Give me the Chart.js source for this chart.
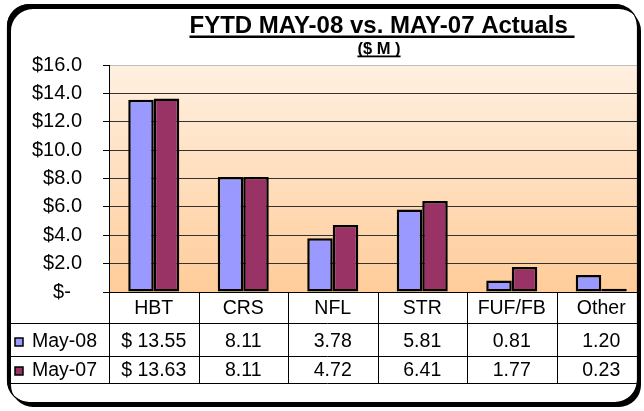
<!DOCTYPE html>
<html><head><meta charset="utf-8">
<script src="https://cdn.jsdelivr.net/npm/chart.js@4.4.1/dist/chart.umd.min.js"></script>
<style>
html,body{margin:0;padding:0;background:#fff;overflow:hidden;}
#wrap{width:644px;height:411px;overflow:hidden;position:relative;}
canvas{display:block;}
</style></head><body>
<div id="wrap"><canvas id="c" width="650" height="411"></canvas></div>
<script>
const categories = ['HBT', 'CRS', 'NFL', 'STR', 'FUF/FB', 'Other'];
const seriesNames = ['May-08', 'May-07'];
const may08 = [13.55, 8.11, 3.78, 5.81, 0.81, 1.20];
const may07 = [13.63, 8.11, 4.72, 6.41, 1.77, 0.23];
const yMin = 0, yMax = 16, yStep = 2;
const titleText = 'FYTD MAY-08 vs. MAY-07 Actuals ';
const subtitleText = '($ M )';
const colors = ['#9999FF', '#993366'];
const FONT = '"Liberation Sans", Arial, sans-serif';

function fmt(v, i) { return (i === 0 ? '$ ' : '') + v.toFixed(2); }

function rrPath(ctx, x0, y0, x1, y1, r) {
  ctx.moveTo(x0 + r, y0);
  ctx.lineTo(x1 - r, y0);
  ctx.arcTo(x1, y0, x1, y0 + r, r);
  ctx.lineTo(x1, y1 - r);
  ctx.arcTo(x1, y1, x1 - r, y1, r);
  ctx.lineTo(x0 + r, y1);
  ctx.arcTo(x0, y1, x0, y1 - r, r);
  ctx.lineTo(x0, y0 + r);
  ctx.arcTo(x0, y0, x0 + r, y0, r);
  ctx.closePath();
}

const bgPlugin = {
  id: 'bg',
  beforeDraw(chart) {
    const { ctx, chartArea: a } = chart;
    const g = ctx.createLinearGradient(0, a.top, 0, a.bottom);
    g.addColorStop(0, 'rgb(255,240,225)');
    g.addColorStop(1, 'rgb(255,204,153)');
    ctx.save();
    ctx.fillStyle = g;
    ctx.fillRect(a.left, a.top, a.right - a.left, a.bottom - a.top);
    ctx.restore();
  }
};

const tablePlugin = {
  id: 'table',
  afterDraw(chart) {
    const { ctx, chartArea: a } = chart;
    const xs = chart.scales.x;
    const n = categories.length;
    const cw = (xs.right - xs.left) / n;
    const yH = a.bottom, y1 = a.bottom + 31, y2 = y1 + 33, y3 = y2 + 27;
    const leftX = 9;
    ctx.save();
    ctx.strokeStyle = '#000';
    ctx.lineWidth = 1;
    ctx.beginPath();
    [y1, y2, y3].forEach(y => { ctx.moveTo(leftX, Math.round(y) + 0.5); ctx.lineTo(xs.right, Math.round(y) + 0.5); });
    for (let i = 0; i <= n; i++) {
      const x = Math.round(xs.left + i * cw) + 0.5;
      ctx.moveTo(x, yH); ctx.lineTo(x, y3);
    }
    ctx.moveTo(leftX + 0.5, y1); ctx.lineTo(leftX + 0.5, y3);
    ctx.stroke();

    ctx.fillStyle = '#000';
    ctx.font = '19.5px ' + FONT;
    ctx.textAlign = 'center';
    ctx.textBaseline = 'middle';
    const rows = [may08, may07];
    categories.forEach((c, i) => {
      const cx = xs.getPixelForValue(i);
      ctx.fillText(c, cx, (yH + y1) / 2 + 1);
      ctx.fillText(fmt(rows[0][i], i), cx, (y1 + y2) / 2 + 2);
      ctx.fillText(fmt(rows[1][i], i), cx, (y2 + y3) / 2 + 1);
    });
    // legend keys
    const rowMid = [(y1 + y2) / 2 + 2, (y2 + y3) / 2 + 1];
    seriesNames.forEach((s, k) => {
      const my = Math.round(rowMid[k]);
      ctx.fillStyle = colors[k];
      ctx.fillRect(15, my - 4, 8, 8);
      ctx.strokeStyle = '#000';
      ctx.lineWidth = 1.5;
      ctx.strokeRect(15, my - 4, 8, 8);
      ctx.fillStyle = '#000';
      ctx.textAlign = 'left';
      ctx.fillText(s, 32, rowMid[k]);
    });

    // title
    ctx.textAlign = 'center';
    ctx.textBaseline = 'alphabetic';
    const tcx = 382;
    ctx.font = 'bold 24px ' + FONT;
    ctx.fillText(titleText, tcx, 33);
    let w = ctx.measureText(titleText).width;
    ctx.fillRect(tcx - w / 2, 35.5, w, 2.5);
    ctx.font = 'bold 16.5px ' + FONT;
    const scx = 379;
    ctx.fillText(subtitleText, scx, 54);
    w = ctx.measureText(subtitleText).width;
    ctx.fillRect(scx - w / 2, 55.5, w, 1.8);

    // frame
    const fx0 = 7, fy0 = 4, fx1 = 637, fy1 = 402, r = 22;
    ctx.beginPath();
    ctx.rect(0, 0, chart.width, chart.height);
    rrPath(ctx, fx0, fy0, fx1, fy1, r);
    ctx.fillStyle = '#fff';
    ctx.fill('evenodd');
    ctx.beginPath();
    rrPath(ctx, fx0 + 4, fy0 + 5, fx1 + 4, fy1 + 5, r);
    rrPath(ctx, fx0, fy0, fx1, fy1, r);
    ctx.fillStyle = '#000';
    ctx.fill('evenodd');
    ctx.beginPath();
    rrPath(ctx, fx0 + 0.5, fy0 + 0.5, fx1 + 0.5, fy1 + 0.5, r);
    ctx.lineWidth = 1.2;
    ctx.strokeStyle = '#000';
    ctx.stroke();
    ctx.restore();
  }
};

new Chart(document.getElementById('c'), {
  type: 'bar',
  data: {
    labels: categories,
    datasets: [
      { label: seriesNames[0], data: may08, backgroundColor: colors[0], borderColor: '#000', borderWidth: 2.5, borderSkipped: false },
      { label: seriesNames[1], data: may07, backgroundColor: colors[1], borderColor: '#000', borderWidth: 2.5, borderSkipped: false }
    ]
  },
  options: {
    responsive: false,
    animation: false,
    devicePixelRatio: 1,
    layout: { padding: { left: 0, top: 65, right: 4, bottom: 119 } },
    plugins: { legend: { display: false }, tooltip: { enabled: false }, title: { display: false } },
    datasets: { bar: { categoryPercentage: 0.57, barPercentage: 1.0 } },
    scales: {
      x: { display: false },
      y: {
        min: yMin, max: yMax,
        afterFit(scale) { scale.width = 109; },
        ticks: {
          stepSize: yStep, padding: 21, color: '#000',
          font: { family: FONT, size: 20 },
          callback: v => v === 0 ? '$-  ' : '$' + Number(v).toFixed(1)
        },
        grid: {
          color: c => (c.tick && c.tick.value === yMax) ? '#bdbdbd' : (c.tick && c.tick.value === 0 ? '#000' : '#333'),
          tickColor: '#000', tickLength: 6, lineWidth: 1
        },
        border: { color: '#000', width: 1 }
      }
    }
  },
  plugins: [bgPlugin, tablePlugin]
});
</script>
</body></html>
